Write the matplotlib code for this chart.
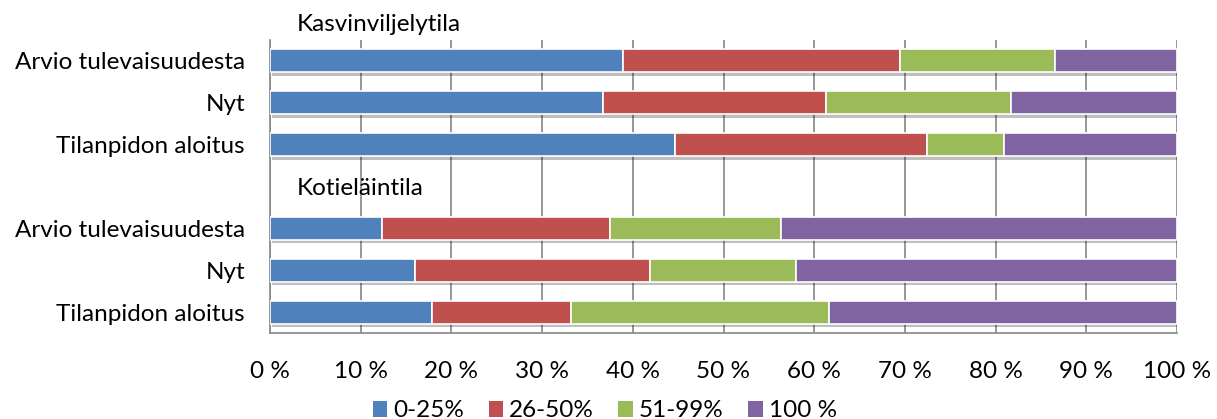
import matplotlib
matplotlib.use("Agg")
import matplotlib.pyplot as plt
import matplotlib.patheffects as pe
import numpy as np

plt.rcParams['font.family'] = ['Lato', 'DejaVu Sans']

categories = ["Arvio tulevaisuudesta", "Nyt", "Tilanpidon aloitus", "",
              "Arvio tulevaisuudesta", "Nyt", "Tilanpidon aloitus"]
group_labels = ["Kasvinviljelytila", "Kotieläintila"]
series_names = ["0-25%", "26-50%", "51-99%", "100 %"]
s_0_25 = [38.9, 36.7, 44.7, 0, 12.4, 16.0, 17.9]
s_26_50 = [30.6, 24.6, 27.7, 0, 25.1, 25.9, 15.3]
s_51_99 = [17.0, 20.4, 8.5, 0, 18.8, 16.1, 28.4]
s_100 = [13.5, 18.3, 19.1, 0, 43.7, 42.0, 38.4]
colors = ["#4F81BD", "#C0504D", "#9BBB59", "#8064A2"]
xticks = [0, 10, 20, 30, 40, 50, 60, 70, 80, 90, 100]

FS = 17.5

fig = plt.figure(figsize=(12.17, 4.19), dpi=100)
ax = fig.add_axes([270/1217, 1 - 333/419, (1177-270)/1217, (333-40)/419])

y = np.arange(len(categories))
left = np.zeros(len(categories))
shadow = [pe.SimplePatchShadow(offset=(1.5, -2.5), alpha=0.25, shadow_rgbFace='black'), pe.Normal()]
for vals, c, name in zip([s_0_25, s_26_50, s_51_99, s_100], colors, series_names):
    vals = np.array(vals)
    mask = vals > 0
    bars = ax.barh(y[mask], vals[mask], left=left[mask], height=0.55, color=c,
                   edgecolor='white', linewidth=1.2, label=name, zorder=3)
    for b in bars:
        b.set_path_effects(shadow)
    left += vals

ax.set_ylim(len(categories) - 0.5, -0.5)
ax.set_xlim(0, 100)
ax.set_yticks([i for i, c in enumerate(categories) if c])
ax.set_yticklabels([c for c in categories if c], fontsize=FS)
ax.tick_params(axis='y', length=0, pad=18)
ax.set_xticks(xticks)
ax.set_xticklabels([f"{v} %" for v in xticks], fontsize=FS)
ax.tick_params(axis='x', length=0, pad=20)
ax.grid(axis='x', color='#868686', linewidth=1.2, zorder=0)
for s in ['top', 'right']:
    ax.spines[s].set_visible(False)
for s in ['left', 'bottom']:
    ax.spines[s].set_color('#868686')
    ax.spines[s].set_linewidth(1.2)

ax.text(3, -0.88, group_labels[0], fontsize=FS, ha='left', va='center', clip_on=False)
ax.text(3, 3.05, group_labels[1], fontsize=FS, ha='left', va='center', clip_on=False)

leg = fig.legend(loc='lower center', bbox_to_anchor=(0.497, -0.058), ncol=4, frameon=False,
                 fontsize=FS, handlelength=0.6, handleheight=0.6, handletextpad=0.25,
                 columnspacing=1.0)
for h in leg.legend_handles:
    h.set_path_effects([])
    h.set_linewidth(0)

fig.savefig("out.png", dpi=100)
